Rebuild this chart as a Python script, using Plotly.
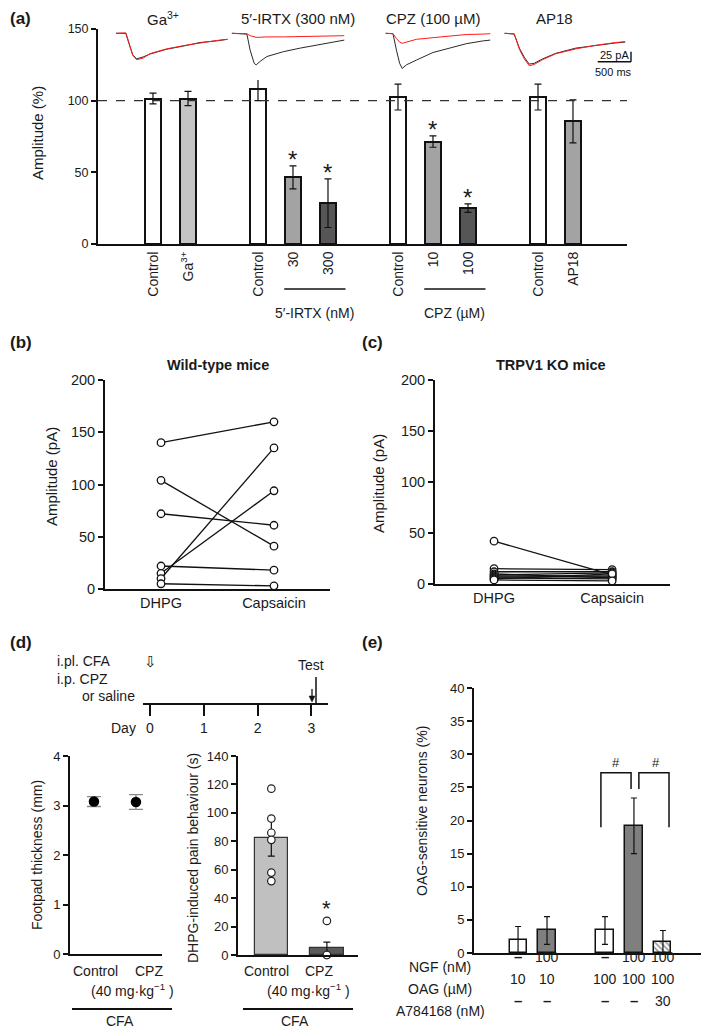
import plotly.graph_objects as go

W, H = 709, 1028
OFF = 8  # page offset of the plot inside the browser window
FONT = "Liberation Sans, Arial, Helvetica, sans-serif"
TXT = "#1a1a1a"
BLK = "#111111"


def fx(p):
    return (max(p, OFF) - OFF) / W


def fy(p):
    return 1 - (p - OFF) / H


def dom_x(a, b):
    return [fx(a), min(fx(b), 1)]


def dom_y(top, bottom):
    return [fy(bottom), fy(top)]


# ====================== DATA ======================
# (a) amplitude, % of control
a_groups = [
    ["Control", "Ga<sup>3+</sup>"],
    ["Control", "30", "300"],
    ["Control", "10", "100"],
    ["Control", "AP18"],
]
a_means = [[101.5, 101.5], [108, 46.5, 28.5], [102.5, 71.5, 25], [102.5, 85.5]]
a_sems = [[3.7, 5], [8, 8, 17], [9, 4, 3], [9, 15]]
a_sig = [[False, False], [False, True, True], [False, True, True], [False, False]]
a_group_units = [None, "5′-IRTX (nM)", "CPZ (µM)", None]
a_trace_titles = ["Ga<sup>3+</sup>", "5′-IRTX (300 nM)", "CPZ (100 µM)", "AP18"]
a_ref = 100

# (a) sample currents: time (ms), control (black) and drug (red) in pA
ga_t = [0, 148, 209, 252, 309, 409, 509, 757, 1009, 1262, 1509, 1675]
ga_ctrl = [0, 0, -33, -54, -64, -59, -52, -40, -32, -23, -19, -15]
ga_drug = [0, 1, -31, -55, -66, -62, -51, -39, -31, -24, -18, -15]
irtx_t = [0, 226, 274, 335, 365, 426, 526, 774, 1027, 1275, 1527, 1688]
irtx_ctrl = [0, -2, -42, -75, -79, -70, -58, -46, -37, -30, -21, -17]
irtx_drug = [0, -1, -6, -10, -10, -10, -9, -9, -8, -7, -6, -6]
cpz_t = [0, 109, 161, 209, 248, 309, 461, 709, 961, 1209, 1462, 1570]
cpz_ctrl = [0, -1, -42, -75, -88, -79, -67, -48, -37, -26, -19, -17]
cpz_drug = [0, -1, -13, -22, -25, -22, -15, -11, -7, -3, -2, -1]
ap_t = [0, 144, 222, 296, 370, 444, 570, 770, 1070, 1370, 1670, 1810]
ap_ctrl = [0, -2, -37, -60, -77, -75, -64, -50, -37, -30, -24, -22]
ap_drug = [0, -1, -40, -64, -81, -78, -66, -51, -39, -30, -23, -21]
scale_pA = 25
scale_ms = 500

# (b) wild-type mice, amplitude (pA)
pair_labels = ["DHPG", "Capsaicin"]
b_dhpg = [140, 104, 72, 22, 15, 10, 5]
b_caps = [160, 41, 61, 18, 94, 135, 3]

# (c) TRPV1 KO mice, amplitude (pA)
c_dhpg = [42, 15, 12, 10, 9, 8, 7, 6, 5, 4]
c_caps = [9, 14, 12, 6, 11, 8, 7, 5, 10, 3]

# (d) timeline days
days = [0, 1, 2, 3]
# (d) footpad thickness (mm)
d_groups = ["Control", "CPZ"]
d_thick = [3.08, 3.07]
d_thick_err = [0.10, 0.15]
# (d) DHPG-induced pain behaviour (s)
d_pain = [82, 5]
d_pain_err = [12.5, 4]
d_pain_ctrl_pts = [117, 96, 86, 81, 58, 52]
d_pain_cpz_pts = [24, 0, 0]

# (e) OAG-sensitive neurons (%)
e_values = [2.0, 3.4, 3.4, 19.2, 1.7]
e_err = [2.0, 2.1, 2.1, 4.2, 1.7]
e_ngf = ["–", "100", "–", "100", "100"]
e_oag = ["10", "10", "100", "100", "100"]
e_a78 = ["–", "–", "–", "–", "30"]
e_row_labels = ["NGF (nM)", "OAG (µM)", "A784168 (nM)"]

# ====================== STYLE ======================
A_COLORS = ["white", "#c4c4c4", "white", "#a3a3a3", "#565656",
            "white", "#a3a3a3", "#565656", "white", "#a3a3a3"]
E_COLORS = ["white", "#7f7f7f", "white", "#7f7f7f", "#9a9a9a"]

fig = go.Figure()

# ---------- (a) bars ----------
a_x, a_y, a_e, a_txt = [], [], [], []
spans = []
sig_pts = []
p = 0
for labels, means, sems, sigs in zip(a_groups, a_means, a_sems, a_sig):
    start = p
    for l, m, s, sg in zip(labels, means, sems, sigs):
        a_x.append(p)
        a_y.append(m)
        a_e.append(s)
        a_txt.append(l)
        if sg:
            sig_pts.append((p, m + s))
        p += 1
    spans.append((start, p - 1))
    p += 1

fig.add_trace(go.Bar(
    x=a_x, y=a_y, width=0.46, xaxis="x", yaxis="y",
    marker=dict(color=A_COLORS, line=dict(color=BLK, width=2)),
    error_y=dict(type="data", array=a_e, color=BLK, thickness=1.2, width=3.5),
    hoverinfo="skip"))

# ---------- (a) sample traces ----------
MS_PX = 500 / 33.3
PA_PX = 25 / 10
BASE = 33.3
trace_offsets = [270, 2010, 4320, 6105]
trace_sets = [(ga_t, ga_ctrl, ga_drug), (irtx_t, irtx_ctrl, irtx_drug),
              (cpz_t, cpz_ctrl, cpz_drug), (ap_t, ap_ctrl, ap_drug)]
for off, (t, c, d) in zip(trace_offsets, trace_sets):
    tt = [off + v for v in t]
    fig.add_trace(go.Scatter(x=tt, y=c, mode="lines", xaxis="x2", yaxis="y2",
                             line=dict(color="#2a2a2a", width=1), hoverinfo="skip"))
    fig.add_trace(go.Scatter(x=tt, y=d, mode="lines", xaxis="x2", yaxis="y2",
                             line=dict(color="#ff1a1a", width=1), hoverinfo="skip"))

# ---------- (b), (c) paired plots ----------
for xa, ya, d1, d2 in [("x3", "y3", b_dhpg, b_caps), ("x4", "y4", c_dhpg, c_caps)]:
    for v1, v2 in zip(d1, d2):
        fig.add_trace(go.Scatter(
            x=[0, 1], y=[v1, v2], mode="lines+markers", xaxis=xa, yaxis=ya,
            line=dict(color=BLK, width=1.3), cliponaxis=False,
            marker=dict(symbol="circle", size=7.5, color="white",
                        line=dict(color=BLK, width=1.3)),
            hoverinfo="skip"))

# ---------- (d) timeline (anchor trace) ----------
fig.add_trace(go.Scatter(x=days, y=[0] * len(days), xaxis="x5", yaxis="y5",
                         mode="markers", marker=dict(opacity=0), hoverinfo="skip"))

# ---------- (d) footpad thickness ----------
fig.add_trace(go.Scatter(
    x=[0, 1], y=d_thick, mode="markers", xaxis="x6", yaxis="y6", cliponaxis=False,
    marker=dict(size=10.5, color="black"),
    error_y=dict(type="data", array=d_thick_err, color="#8a8a8a", thickness=1.3, width=7),
    hoverinfo="skip"))

# ---------- (d) pain behaviour ----------
fig.add_trace(go.Bar(
    x=[0, 1], y=d_pain, width=0.6, xaxis="x7", yaxis="y7",
    marker=dict(color=["#c0c0c0", "#5a5a5a"], line=dict(color="#333333", width=1.2)),
    error_y=dict(type="data", array=d_pain_err, color=BLK, thickness=1.2, width=3.5),
    hoverinfo="skip"))
fig.add_trace(go.Scatter(
    x=[0] * len(d_pain_ctrl_pts) + [1] * len(d_pain_cpz_pts),
    y=d_pain_ctrl_pts + d_pain_cpz_pts, mode="markers", xaxis="x7", yaxis="y7",
    cliponaxis=False,
    marker=dict(size=7.5, color="white", line=dict(color="#222222", width=1.2)),
    hoverinfo="skip"))

# ---------- (e) bars ----------
e_pos = [0, 1, 3, 4, 5]
fig.add_trace(go.Bar(
    x=e_pos, y=e_values, width=0.59, xaxis="x8", yaxis="y8",
    marker=dict(color=E_COLORS, line=dict(color=BLK, width=1.5),
                pattern=dict(shape=["", "", "", "", "\\"], fgcolor="#222222",
                             bgcolor="#9a9a9a", size=4, solidity=0.45)),
    error_y=dict(type="data", array=e_err, color=BLK, thickness=1.2, width=3),
    hoverinfo="skip"))

# ====================== AXES ======================
ax_common = dict(showgrid=False, zeroline=False, linecolor=BLK, color=TXT, automargin=False,
                 tickcolor=BLK, tickfont=dict(family=FONT, size=13, color=TXT))

layout_axes = {}
layout_axes["xaxis"] = dict(ax_common, domain=dom_x(98, 627), range=[-1.571, 13.543],
                            anchor="y", showline=True, linewidth=2, ticks="",
                            tickmode="array", tickvals=a_x, ticktext=a_txt, tickangle=-90,
                            tickfont=dict(family=FONT, size=14, color=TXT))
layout_axes["yaxis"] = dict(ax_common, domain=dom_y(29, 244), range=[0, 150], anchor="x",
                            showline=True, linewidth=2, ticks="outside", ticklen=5,
                            tickwidth=1.5, tickvals=[0, 50, 100, 150],
                            tickfont=dict(family=FONT, size=12.5, color=TXT))
layout_axes["xaxis2"] = dict(domain=dom_x(98, 640), range=[0, 542 * MS_PX], anchor="y2",
                             visible=False, automargin=False)
layout_axes["yaxis2"] = dict(domain=dom_y(25, 80), range=[-(80 - BASE) * PA_PX, (BASE - 25) * PA_PX],
                             anchor="x2", visible=False, automargin=False)
# (b)
layout_axes["xaxis3"] = dict(ax_common, domain=dom_x(105, 330), range=[-0.496, 1.496], anchor="y3",
                             showline=True, linewidth=2, ticks="", tickvals=[0, 1],
                             ticktext=pair_labels, tickfont=dict(family=FONT, size=14.5, color=TXT))
layout_axes["yaxis3"] = dict(ax_common, domain=dom_y(380, 589), range=[0, 200], anchor="x3",
                             showline=True, linewidth=2, ticks="outside", ticklen=5, tickwidth=1.5,
                             tickvals=[0, 50, 100, 150, 200],
                             tickfont=dict(family=FONT, size=14.5, color=TXT))
# (c)
layout_axes["xaxis4"] = dict(ax_common, domain=dom_x(435, 670), range=[-0.5, 1.49], anchor="y4",
                             showline=True, linewidth=2, ticks="", tickvals=[0, 1],
                             ticktext=pair_labels, tickfont=dict(family=FONT, size=14.5, color=TXT))
layout_axes["yaxis4"] = dict(ax_common, domain=dom_y(380, 584), range=[0, 200], anchor="x4",
                             showline=True, linewidth=2, ticks="outside", ticklen=5, tickwidth=1.5,
                             tickvals=[0, 50, 100, 150, 200],
                             tickfont=dict(family=FONT, size=14.5, color=TXT))
# (d) timeline
layout_axes["xaxis5"] = dict(ax_common, domain=dom_x(143, 328), range=[-0.13, 3.31], anchor="y5",
                             showline=True, linewidth=2, ticks="outside", ticklen=11, tickwidth=2,
                             tickvals=days, ticktext=[str(d) for d in days],
                             tickfont=dict(family=FONT, size=14, color=TXT))
layout_axes["yaxis5"] = dict(domain=dom_y(680, 703), range=[0, 1], anchor="x5", visible=False,
                             automargin=False)
# (d) footpad
layout_axes["xaxis6"] = dict(ax_common, domain=dom_x(70, 162), range=[-0.57, 1.62], anchor="y6",
                             showline=True, linewidth=2, ticks="", showticklabels=False)
layout_axes["yaxis6"] = dict(ax_common, domain=dom_y(756, 954), range=[0, 4], anchor="x6",
                             showline=True, linewidth=2, ticks="outside", ticklen=5, tickwidth=1.5,
                             tickvals=[0, 1, 2, 3, 4])
# (d) pain
layout_axes["xaxis7"] = dict(ax_common, domain=dom_x(238, 358), range=[-0.6, 1.56], anchor="y7",
                             showline=True, linewidth=2, ticks="", showticklabels=False)
layout_axes["yaxis7"] = dict(ax_common, domain=dom_y(756, 955), range=[0, 140], anchor="x7",
                             showline=True, linewidth=2, ticks="outside", ticklen=5, tickwidth=1.5,
                             tickvals=list(range(0, 141, 20)))
# (e)
layout_axes["xaxis8"] = dict(ax_common, domain=dom_x(474, 717), range=[-1.52, 6.59 + 8 / 29], anchor="y8",
                             showline=True, linewidth=2, ticks="", showticklabels=False)
layout_axes["yaxis8"] = dict(ax_common, domain=dom_y(688, 953), range=[0, 40], anchor="x8",
                             showline=True, linewidth=2, ticks="outside", ticklen=5, tickwidth=1.5,
                             tickvals=list(range(0, 41, 5)))

# ====================== SHAPES / TEXT ======================
shapes = []
ann = []


def A(text, x, y, size=14, xanchor="center", yanchor="middle", angle=0, color=TXT):
    return dict(text=text, x=fx(x), y=fy(y), xref="paper", yref="paper", showarrow=False,
                font=dict(size=size, family=FONT, color=color), xanchor=xanchor,
                yanchor=yanchor, textangle=angle)


# dashed 100 % line
shapes.append(dict(type="line", xref="x", yref="y", x0=-1.571, x1=13.543, y0=a_ref, y1=a_ref,
                   line=dict(color="#333333", width=1.2, dash="dash")))

# concentration underlines in (a) (under the drug bars only)
for (s0, s1), unit in zip(spans, a_group_units):
    if unit:
        d0 = s0 + 1
        shapes.append(dict(type="line", xref="x", yref="paper", x0=d0 - 0.25, x1=s1 + 0.5,
                           y0=fy(289), y1=fy(289), line=dict(color=BLK, width=1.5)))
        ann.append(dict(text=unit, x=(d0 + s1 + 0.25) / 2, y=fy(303), xref="x", yref="paper",
                        showarrow=False, font=dict(size=14, family=FONT, color=TXT)))

# asterisks in (a)
for (xp, top) in sig_pts:
    ann.append(dict(text="*", x=xp, y=top, xref="x", yref="y", showarrow=False,
                    yanchor="bottom", yshift=-9, font=dict(size=24, family=FONT, color=TXT)))

# scale bar (trace axis units)
sb_x1 = (631 - 98) * MS_PX
sb_y0 = -(61.7 - BASE) * PA_PX
shapes.append(dict(type="line", xref="x2", yref="y2", x0=sb_x1 - scale_ms, x1=sb_x1,
                   y0=sb_y0, y1=sb_y0, line=dict(color=BLK, width=1.4)))
shapes.append(dict(type="line", xref="x2", yref="y2", x0=sb_x1, x1=sb_x1,
                   y0=sb_y0, y1=sb_y0 + scale_pA, line=dict(color=BLK, width=1.4)))
ann.append(A(f"{scale_pA} pA", 614, 55, size=11, color="#111111"))
ann.append(A(f"{scale_ms} ms", 613, 72, size=11, color="#111111"))

# trace titles
for title, xc in zip(a_trace_titles, [163, 298, 434, 554]):
    ann.append(A(title, xc, 19, size=15))

# timeline extras
shapes.append(dict(type="line", xref="paper", yref="paper", x0=fx(316), x1=fx(316),
                   y0=fy(677), y1=fy(703), line=dict(color=BLK, width=1.5)))
shapes.append(dict(type="line", xref="paper", yref="paper", x0=fx(312), x1=fx(312),
                   y0=fy(689), y1=fy(698), line=dict(color=BLK, width=1.3)))
shapes.append(dict(type="path", xref="paper", yref="paper",
                   path=f"M {fx(309)},{fy(696)} L {fx(315)},{fy(696)} L {fx(312)},{fy(702)} Z",
                   fillcolor=BLK, line=dict(color=BLK, width=0.5)))
ann.append(A("⇩", 150, 661, size=15))
ann.append(A("Test", 311, 665, size=14))
ann.append(A("i.pl. CFA", 55, 661, size=14, xanchor="left"))
ann.append(A("i.p. CPZ", 55, 679, size=14, xanchor="left"))
ann.append(A("or saline", 80, 696, size=14, xanchor="left"))
ann.append(A("Day", 123, 728, size=14))

# (d) group labels
for xc_ctrl, xc_cpz, xc_dose, ux0, ux1, xc_cfa in [(95, 149, 132, 72, 172, 120),
                                                   (266, 319, 308, 243, 353, 295)]:
    ann.append(A(d_groups[0], xc_ctrl, 971, size=14))
    ann.append(A(d_groups[1], xc_cpz, 971, size=14))
    ann.append(A("(40 mg·kg<sup>−1</sup> )", xc_dose, 990, size=14))
    shapes.append(dict(type="line", xref="paper", yref="paper", x0=fx(ux0), x1=fx(ux1),
                       y0=fy(1009), y1=fy(1009), line=dict(color=BLK, width=1.8)))
    ann.append(A("CFA", xc_cfa, 1021, size=14))

# (d) asterisk
ann.append(dict(text="*", x=1, y=d_pain_cpz_pts[0], xref="x7", yref="y7", showarrow=False,
                yanchor="bottom", yshift=-2, font=dict(size=22, family=FONT, color=TXT)))

# (e) brackets and table
shapes.append(dict(type="path", xref="x8", yref="y8",
                   path="M 2.86,19.0 L 2.86,27.2 L 3.9,27.2 L 3.9,24.75",
                   line=dict(color=BLK, width=1.5)))
shapes.append(dict(type="path", xref="x8", yref="y8",
                   path="M 4.17,24.75 L 4.17,27.2 L 5.21,27.2 L 5.21,19.0",
                   line=dict(color=BLK, width=1.5)))
for xh in [3.38, 4.76]:
    ann.append(dict(text="#", x=xh, y=28.7, xref="x8", yref="y8", showarrow=False,
                    font=dict(size=13, family=FONT, color=TXT)))
for row_vals, row_label, yrow in zip([e_ngf, e_oag, e_a78], e_row_labels, [967, 989, 1011]):
    ann.append(A(row_label, 440, yrow, size=14))
    for xp, v in zip(e_pos, row_vals):
        txt = f"<b>{v}</b>" if v == "–" else v
        ann.append(dict(text=txt, x=xp, y=fy(yrow), xref="x8", yref="paper", showarrow=False,
                        font=dict(size=15 if v == "–" else 14, family=FONT, color=TXT)))

# axis titles
ann.append(A("Amplitude (%)", 37, 133, size=15, angle=-90))
ann.append(A("Amplitude (pA)", 52, 477, size=15, angle=-90))
ann.append(A("Amplitude (pA)", 378, 484, size=15, angle=-90))
ann.append(A("Footpad thickness (mm)", 37, 855, size=14, angle=-90))
ann.append(A("DHPG-induced pain behaviour (s)", 193, 858, size=14, angle=-90))
ann.append(A("OAG-sensitive neurons (%)", 422, 811, size=14, angle=-90))

# panel titles
ann.append(A("<b>Wild-type mice</b>", 218, 365, size=14.5))
ann.append(A("<b>TRPV1 KO mice</b>", 551, 365, size=14.5))

# panel letters
for lab, xl, yl in [("(a)", 3, 19), ("(b)", 3, 343), ("(c)", 360, 343),
                    ("(d)", 3, 642), ("(e)", 360, 642)]:
    ann.append(A(f"<b>{lab}</b>", xl, yl, size=17, xanchor="left"))

fig.update_layout(
    template="none",
    width=W, height=H, autosize=False,
    margin=dict(l=0, r=0, t=0, b=0, pad=0),
    paper_bgcolor="white", plot_bgcolor="white",
    showlegend=False, bargap=0,
    font=dict(family=FONT, size=14, color=TXT),
    shapes=shapes, annotations=ann,
    **layout_axes,
)

fig.write_html("out.html")
